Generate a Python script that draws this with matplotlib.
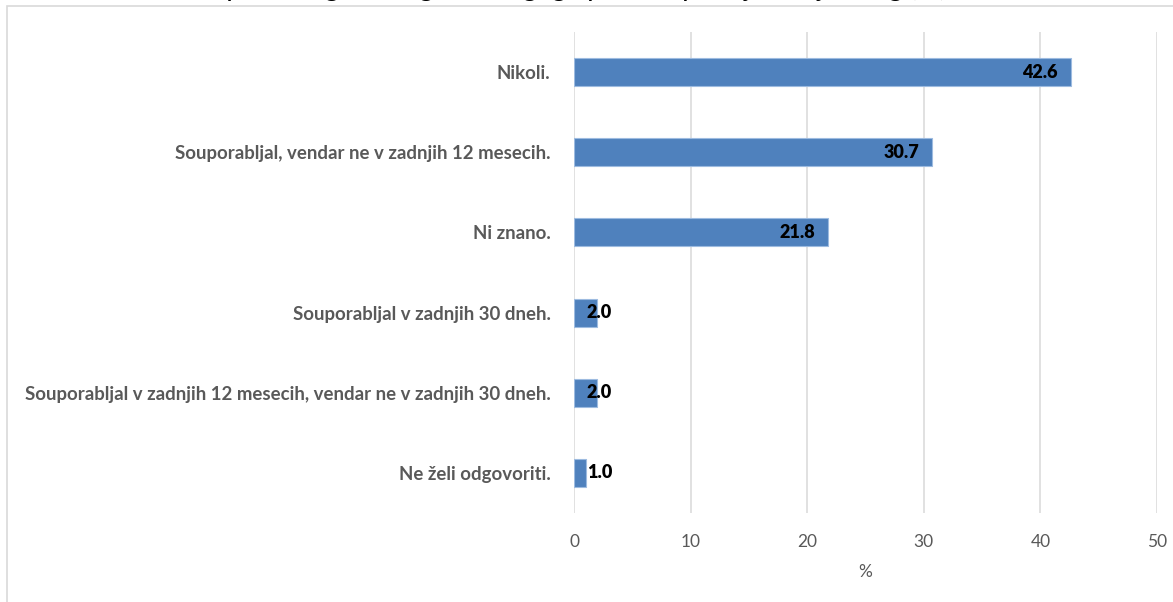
import matplotlib
matplotlib.use('Agg')
import matplotlib.pyplot as plt

# data (top to bottom)
categories = ['Nikoli.',
              'Souporabljal, vendar ne v zadnjih 12 mesecih.',
              'Ni znano.',
              'Souporabljal v zadnjih 30 dneh.',
              'Souporabljal v zadnjih 12 mesecih, vendar ne v zadnjih 30 dneh.',
              'Ne želi odgovoriti.']
values = [42.6, 30.7, 21.8, 2.0, 2.0, 1.0]
xticks = [0, 10, 20, 30, 40, 50]
title = 'Souporaba igel, brizg, ali drugega pribora pri injiciranju drog (%)'

plt.rcParams['font.family'] = ['Lato', 'DejaVu Sans']

fig = plt.figure(figsize=(11.73, 6.02), dpi=100)
ax = fig.add_axes([574/1173, 1-513/602, (1157-574)/1173, (513-32)/602])

# outer chart border (only top and left are visible in the crop)
fig.patches.append(plt.Rectangle((7/1173, -0.1), 1.2, 1-6/602+0.1, transform=fig.transFigure,
                                 fill=False, edgecolor='#d9d9d9', linewidth=1.2))

# title is cut off at the top of the picture, only descenders show
fig.text(0.48, 1+4/602, title, ha='center', va='baseline', fontsize=20, color='#000000')

pos = list(range(len(categories)))
ax.barh(pos, values, height=0.35, color='#4f81bd', edgecolor='#9dbbe0', linewidth=0.8, zorder=3)

for p, v in zip(pos, values):
    if v < 5:
        ax.text(1.1, p, '%.1f' % v, ha='left', va='center', fontsize=13, fontweight='heavy', color='black', zorder=4)
    else:
        ax.text(v - 1.1, p, '%.1f' % v, ha='right', va='center', fontsize=13, fontweight='heavy', color='black', zorder=4)

ax.set_xlim(0, 50)
ax.set_ylim(len(categories) - 0.5, -0.5)
ax.set_xticks(xticks)
ax.set_xticklabels([str(t) for t in xticks])
ax.set_yticks(pos)
ax.set_yticklabels(categories, fontweight='bold', fontsize=13.4, color='#595959')
ax.tick_params(axis='y', length=0, pad=17)
ax.tick_params(axis='x', length=0, pad=15, labelsize=12.5, labelcolor='#595959')
ax.xaxis.grid(True, color='#d9d9d9', linewidth=1.1, zorder=0)
for s in ax.spines.values():
    s.set_visible(False)
ax.set_xlabel('%', fontsize=12.5, color='#595959', labelpad=10)

fig.savefig('out.png', dpi=100)
